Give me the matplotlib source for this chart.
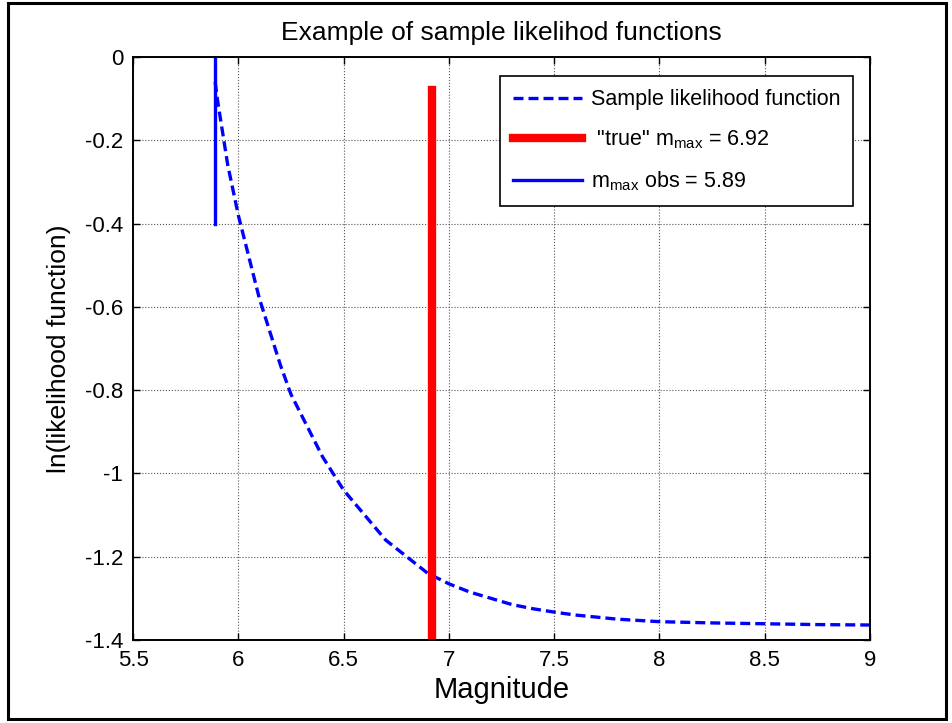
import matplotlib
matplotlib.use('Agg')
import matplotlib.pyplot as plt
from matplotlib.patches import Rectangle

# Sample likelihood function
magnitude = [5.89, 5.90, 5.95, 6.00, 6.05, 6.10, 6.15, 6.20, 6.25, 6.30,
             6.35, 6.40, 6.45, 6.50, 6.60, 6.70, 6.80, 6.90, 7.00, 7.10,
             7.20, 7.30, 7.40, 7.50, 7.60, 7.70, 7.80, 7.90, 8.00, 8.25,
             8.50, 8.75, 9.00]
log_likelihood = [-0.06, -0.10, -0.26, -0.38, -0.48, -0.58, -0.66, -0.74, -0.81, -0.86,
                  -0.91, -0.96, -1.00, -1.04, -1.10, -1.16, -1.20, -1.24, -1.265, -1.285,
                  -1.30, -1.315, -1.325, -1.333, -1.34, -1.345, -1.35, -1.353, -1.356, -1.359,
                  -1.361, -1.363, -1.364]

m_true = 6.92
m_true_span = [-0.08, -1.4]
m_obs = 5.89
m_obs_span = [0.0, -0.4]

x_ticks = [5.5, 6, 6.5, 7, 7.5, 8, 8.5, 9]
y_ticks = [0, -0.2, -0.4, -0.6, -0.8, -1, -1.2, -1.4]

plt.rcParams['font.family'] = ['Liberation Sans', 'DejaVu Sans']
plt.rcParams['mathtext.default'] = 'regular'

fig = plt.figure(figsize=(9.53, 7.23), dpi=100)
ax = fig.add_axes([0.1396, 0.1148, 0.7733, 0.8064])

ax.plot(magnitude, log_likelihood, color='#0000ff', linestyle='--', dashes=(3, 1.5),
        linewidth=2.4, label='Sample likelihood function')
ax.plot([m_true, m_true], m_true_span, color='#ff0000', linewidth=6,
        label=' "true" m$_{max}$ = 6.92')
ax.plot([m_obs, m_obs], m_obs_span, color='#0000ff', linewidth=2.4,
        label='m$_{max}$ obs = 5.89')

ax.set_xlim(5.5, 9)
ax.set_ylim(-1.4, 0)
ax.set_xticks(x_ticks)
ax.set_xticklabels(['5.5', '6', '6.5', '7', '7.5', '8', '8.5', '9'])
ax.set_yticks(y_ticks)
ax.set_yticklabels(['0', '-0.2', '-0.4', '-0.6', '-0.8', '-1', '-1.2', '-1.4'])
ax.tick_params(direction='in', length=5, width=1, top=True, right=True,
               labelsize=16, pad=7)
ax.grid(True, color='#555555', linestyle=':', linewidth=0.8)
for s in ax.spines.values():
    s.set_linewidth(1.4)

ax.set_title('Example of sample likelihod functions', fontsize=19, pad=12)
ax.set_xlabel('Magnitude', fontsize=21, labelpad=4)
ax.set_ylabel('ln(likelihood function)', fontsize=19, labelpad=10)

leg = ax.legend(loc='upper right', bbox_to_anchor=(0.977, 0.967), borderaxespad=0,
                fontsize=15.5, frameon=True, fancybox=False, framealpha=1,
                edgecolor='black', handlelength=3.2, borderpad=0.6,
                labelspacing=0.85, handletextpad=0.4)
leg.get_frame().set_linewidth(1.2)

# outer frame around the whole figure
fig.patches.append(Rectangle((0.008, 0.006), 0.985, 0.99, transform=fig.transFigure,
                             fill=False, edgecolor='black', linewidth=2.2))

plt.savefig('out.png', dpi=100)
